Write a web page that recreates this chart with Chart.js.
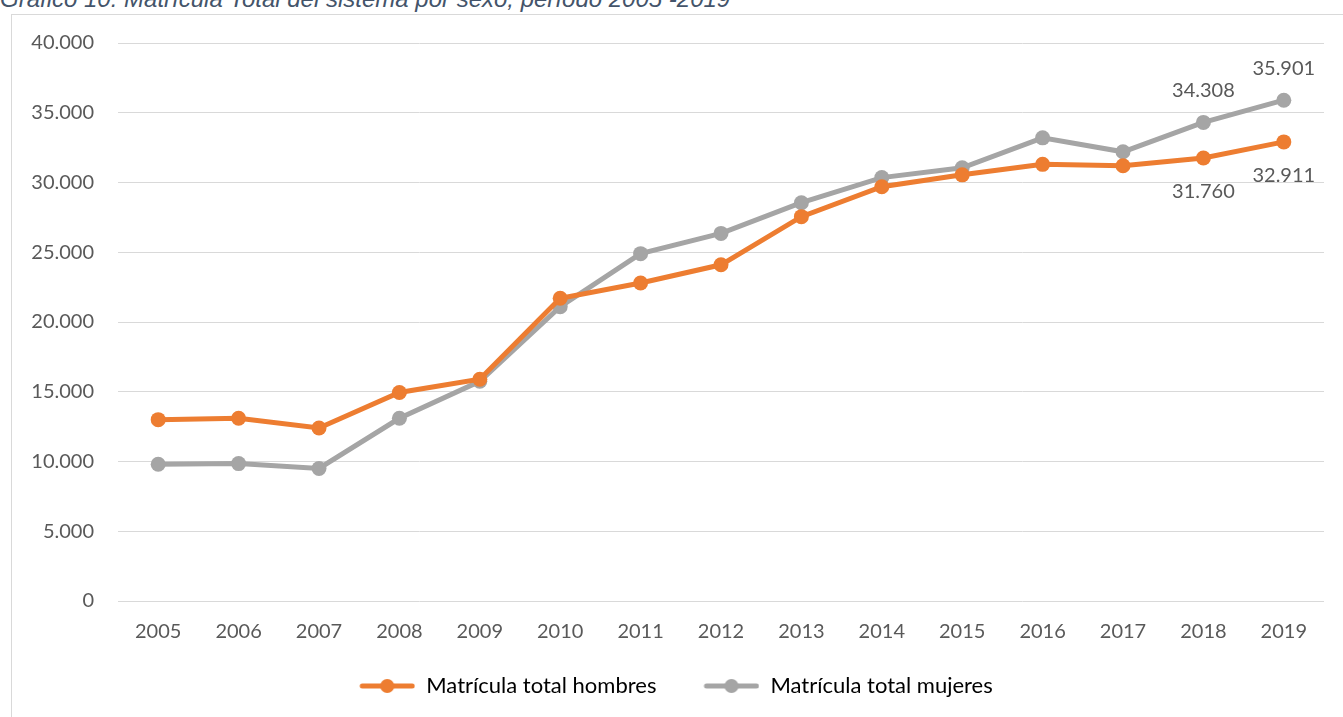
<!DOCTYPE html>
<html>
<head>
<meta charset="utf-8">
<script src="https://cdn.jsdelivr.net/npm/chart.js@4"></script>
<style>
  html, body { margin: 0; padding: 0; background: #fff; overflow: hidden; }
  #title {
    position: absolute; left: 0; top: -1px;
    font-family: "Liberation Sans", Arial, sans-serif; font-style: italic;
    font-size: 24px; line-height: 0; color: #44546A; white-space: nowrap;
  }
  #box {
    position: absolute; left: 11px; top: 14px;
    width: 1340px; height: 720px;
    border: 1px solid #d9d9d9;
  }
  #box canvas { display: block; margin-top: -8px; }
</style>
</head>
<body>
<div id="title">Gráfico 10: Matrícula Total del sistema por sexo, período 2005 -2019</div>
<div id="box"><canvas id="myChart" width="1340" height="728"></canvas></div>
<script>
// Data
const years = ['2005', '2006', '2007', '2008', '2009', '2010', '2011', '2012', '2013', '2014', '2015', '2016', '2017', '2018', '2019'];
const hombres = [13000, 13100, 12400, 14950, 15900, 21700, 22800, 24100, 27550, 29700, 30550, 31300, 31200, 31760, 32911];
const mujeres = [9800, 9850, 9500, 13100, 15750, 21100, 24900, 26350, 28550, 30350, 31050, 33200, 32200, 34308, 35901];
const labelledYears = ['2018', '2019'];

const textColor = '#595959';
const orange = '#ED7D31';
const gray = '#A5A5A5';

// legend marker: short line with a dot in the middle (left part kept blank as spacing)
function legendMarker(color) {
    const c = document.createElement('canvas');
    c.width = 72;
    c.height = 16;
    const g = c.getContext('2d');
    g.strokeStyle = color;
    g.lineWidth = 5;
    g.lineCap = 'round';
    g.beginPath();
    g.moveTo(19, 8);
    g.lineTo(69, 8);
    g.stroke();
    g.fillStyle = color;
    g.beginPath();
    g.arc(44, 8, 7, 0, Math.PI * 2);
    g.fill();
    return c;
}

function fmt(v) {
    return v.toLocaleString('de-DE');
}

// value labels for the last two years only
const valueLabels = {
    id: 'valueLabels',
    afterDatasetsDraw(chart) {
        const ctx = chart.ctx;
        ctx.save();
        ctx.font = '20px Lato, "Open Sans", sans-serif';
        ctx.fillStyle = textColor;
        ctx.textAlign = 'center';
        ctx.textBaseline = 'middle';
        chart.data.datasets.forEach((ds, di) => {
            const meta = chart.getDatasetMeta(di);
            meta.data.forEach((pt, i) => {
                if (!labelledYears.includes(years[i])) return;
                const dy = di === 0 ? 34 : -32;
                ctx.fillText(fmt(ds.data[i]), pt.x, pt.y + dy);
            });
        });
        ctx.restore();
    }
};

Chart.defaults.font.family = 'Lato, "Open Sans", sans-serif';
Chart.defaults.color = textColor;

const ctx = document.getElementById('myChart').getContext('2d');
const myChart = new Chart(ctx, {
    type: 'line',
    data: {
        labels: years,
        datasets: [{
            label: 'Matrícula total hombres',
            data: hombres,
            borderColor: orange,
            backgroundColor: orange,
            borderWidth: 5,
            pointRadius: 7.5,
            pointHoverRadius: 7.5,
            pointBorderWidth: 0,
            tension: 0,
            pointStyle: 'circle'
        }, {
            label: 'Matrícula total mujeres',
            data: mujeres,
            borderColor: gray,
            backgroundColor: gray,
            borderWidth: 5,
            pointRadius: 7.5,
            pointHoverRadius: 7.5,
            pointBorderWidth: 0,
            tension: 0,
            pointStyle: 'circle'
        }]
    },
    options: {
        responsive: false,
        animation: false,
        layout: { padding: { top: 10, right: 28, left: 0, bottom: 28 } },
        plugins: {
            legend: {
                position: 'bottom',
                labels: {
                    usePointStyle: true,
                    pointStyleWidth: 72,
                    padding: 31,
                    font: { size: 22 },
                    color: textColor,
                    generateLabels(chart) {
                        return chart.data.datasets.map((ds, i) => ({
                            text: ds.label,
                            pointStyle: legendMarker(ds.borderColor),
                            fillStyle: ds.borderColor,
                            strokeStyle: ds.borderColor,
                            lineWidth: 0,
                            hidden: false,
                            datasetIndex: i
                        }));
                    }
                }
            },
            tooltip: { enabled: false }
        },
        scales: {
            x: {
                offset: true,
                grid: { display: false, drawTicks: false },
                border: { display: false },
                ticks: { padding: 19, font: { size: 20 }, color: textColor },
                afterFit(scale) { scale.height = 43; }
            },
            y: {
                min: 0,
                max: 40000,
                grid: { color: '#d9d9d9', lineWidth: 1, drawTicks: false },
                border: { display: false },
                ticks: {
                    stepSize: 5000,
                    padding: 24,
                    font: { size: 20 },
                    color: textColor,
                    callback: v => fmt(v)
                },
                afterFit(scale) { scale.width = 106; }
            }
        }
    },
    plugins: [valueLabels]
});
</script>
</body>
</html>
